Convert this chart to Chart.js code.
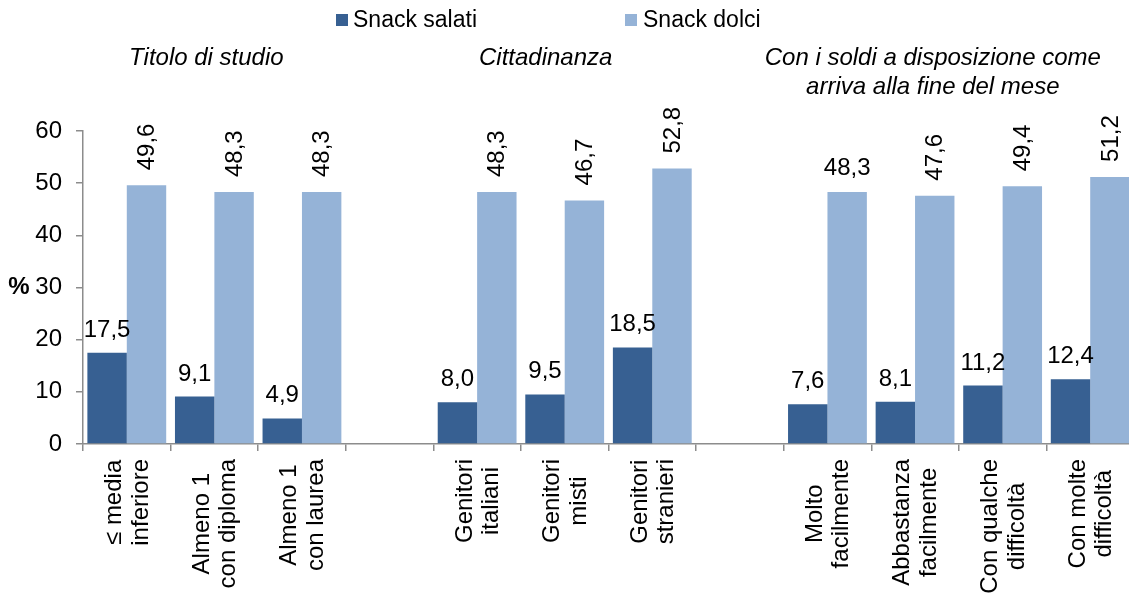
<!DOCTYPE html>
<html>
<head>
<meta charset="utf-8">
<script src="https://cdn.jsdelivr.net/npm/chart.js@4/dist/chart.umd.min.js"></script>
<style>
  html, body { margin: 0; padding: 0; background: #fff; overflow: hidden; }
  #wrap { width: 1134px; height: 600px; position: relative; }
</style>
</head>
<body>
<div id="wrap"><canvas id="snack-chart"></canvas></div>
<script>
// Categorie (righe dell'etichetta) - gli slot vuoti separano i gruppi
var categories = [
    ["≤ media", "inferiore"],
    ["Almeno 1", "con diploma"],
    ["Almeno 1", "con laurea"],
    [""],
    ["Genitori", "italiani"],
    ["Genitori", "misti"],
    ["Genitori", "stranieri"],
    [""],
    ["Molto", "facilmente"],
    ["Abbastanza", "facilmente"],
    ["Con qualche", "difficoltà"],
    ["Con molte", "difficoltà"]
];
var snackSalati = [17.5, 9.1, 4.9, null, 8.0, 9.5, 18.5, null, 7.6, 8.1, 11.2, 12.4];
var snackDolci = [49.6, 48.3, 48.3, null, 48.3, 46.7, 52.8, null, 48.3, 47.6, 49.4, 51.2];
var seriesNames = ["Snack salati", "Snack dolci"];
var yTicks = [0, 10, 20, 30, 40, 50, 60];

// Titoli dei gruppi: righe e indici delle categorie coperte
var groupTitles = [
    { lines: ["Titolo di studio"], from: 0, to: 2 },
    { lines: ["Cittadinanza"], from: 4, to: 6 },
    { lines: ["Con i soldi a disposizione come", "arriva alla fine del mese"], from: 8, to: 11 }
];

var DARK = "#376092";
var LIGHT = "#95b3d7";
var AXIS = "#8c8c8c";
var FONT = "'Liberation Sans', Arial, sans-serif";
var SIZE = 24;
var titleShift = [-8, -19, -26]; // spostamento orizzontale dei titoli

var fmt = function (v) { return v.toFixed(1).replace('.', ','); };

var decorations = {
    id: 'decorations',
    afterDatasetsDraw: function (chart) {
        var ctx = chart.ctx;
        var x = chart.scales.x;
        ctx.save();
        ctx.fillStyle = "#000";

        // Legenda
        var legendPos = [{ box: 336, text: 353 }, { box: 625, text: 643 }];
        [DARK, LIGHT].forEach(function (c, i) {
            ctx.fillStyle = c;
            ctx.fillRect(legendPos[i].box, 14, 12, 12);
            ctx.fillStyle = "#000";
            ctx.font = "23px " + FONT;
            ctx.textAlign = "left";
            ctx.textBaseline = "alphabetic";
            ctx.fillText(seriesNames[i], legendPos[i].text, 27);
        });

        // Titoli dei gruppi in corsivo
        ctx.font = "italic " + SIZE + "px " + FONT;
        ctx.textAlign = "center";
        ctx.textBaseline = "middle";
        groupTitles.forEach(function (g, n) {
            var cx = (x.getPixelForValue(g.from) + x.getPixelForValue(g.to)) / 2 + titleShift[n];
            g.lines.forEach(function (l, i) {
                ctx.fillText(l, cx, 58 + i * 29);
            });
        });

        // Simbolo % dell'asse y
        ctx.font = "bold " + SIZE + "px " + FONT;
        ctx.fillText("%", 19, chart.scales.y.getPixelForValue(30));

        // Etichette delle categorie ruotate, righe centrate
        ctx.font = SIZE + "px " + FONT;
        categories.forEach(function (lines, i) {
            var cx = x.getPixelForValue(i);
            var w = 0;
            lines.forEach(function (l) { w = Math.max(w, ctx.measureText(l).width); });
            ctx.save();
            ctx.translate(cx + 1, 459);
            ctx.rotate(-Math.PI / 2);
            ctx.textAlign = "center";
            ctx.textBaseline = "middle";
            lines.forEach(function (l, k) {
                ctx.fillText(l, -w / 2, (k - (lines.length - 1) / 2) * 26.5);
            });
            ctx.restore();
        });

        // Valori sopra le barre
        chart.getDatasetMeta(0).data.forEach(function (bar, i) {
            if (snackSalati[i] == null) return;
            ctx.textAlign = "center";
            ctx.textBaseline = "alphabetic";
            ctx.fillText(fmt(snackSalati[i]), bar.x, bar.y - 16);
        });
        chart.getDatasetMeta(1).data.forEach(function (bar, i) {
            if (snackDolci[i] == null) return;
            if (i === 8) { // questa etichetta resta orizzontale
                ctx.textAlign = "center";
                ctx.textBaseline = "alphabetic";
                ctx.fillText(fmt(snackDolci[i]), bar.x, bar.y - 17);
                return;
            }
            ctx.save();
            ctx.translate(bar.x + 1, bar.y - 15);
            ctx.rotate(-Math.PI / 2);
            ctx.textAlign = "left";
            ctx.textBaseline = "middle";
            ctx.fillText(fmt(snackDolci[i]), 0, 0);
            ctx.restore();
        });

        ctx.restore();
    }
};

new Chart(document.getElementById("snack-chart"), {
    type: 'bar',
    data: {
        labels: categories.map(function (c) { return c.join(" "); }),
        datasets: [{
            label: seriesNames[0],
            backgroundColor: DARK,
            data: snackSalati
        }, {
            label: seriesNames[1],
            backgroundColor: LIGHT,
            data: snackDolci
        }]
    },
    options: {
        responsive: true,
        maintainAspectRatio: false,
        animation: false,
        layout: { padding: { top: 131, bottom: 149, left: 0, right: 0 } },
        datasets: { bar: { categoryPercentage: 0.9, barPercentage: 1.0 } },
        plugins: {
            legend: { display: false },
            tooltip: { enabled: false }
        },
        scales: {
            x: {
                grid: { offset: true, drawOnChartArea: false, drawTicks: true, tickLength: 7, color: AXIS, lineWidth: 1.5 },
                border: { color: AXIS, width: 1.5 },
                ticks: { display: false }
            },
            y: {
                min: 0,
                max: 60,
                afterBuildTicks: function (scale) {
                    scale.ticks = yTicks.map(function (v) { return { value: v }; });
                },
                afterFit: function (scale) { scale.width = 83; },
                grid: { drawOnChartArea: false, drawTicks: true, tickLength: 7, color: AXIS, lineWidth: 1.5 },
                border: { color: AXIS, width: 1.5 },
                ticks: {
                    padding: 14,
                    color: "#000",
                    font: { family: FONT, size: SIZE }
                }
            }
        }
    },
    plugins: [decorations]
});
</script>
</body>
</html>
